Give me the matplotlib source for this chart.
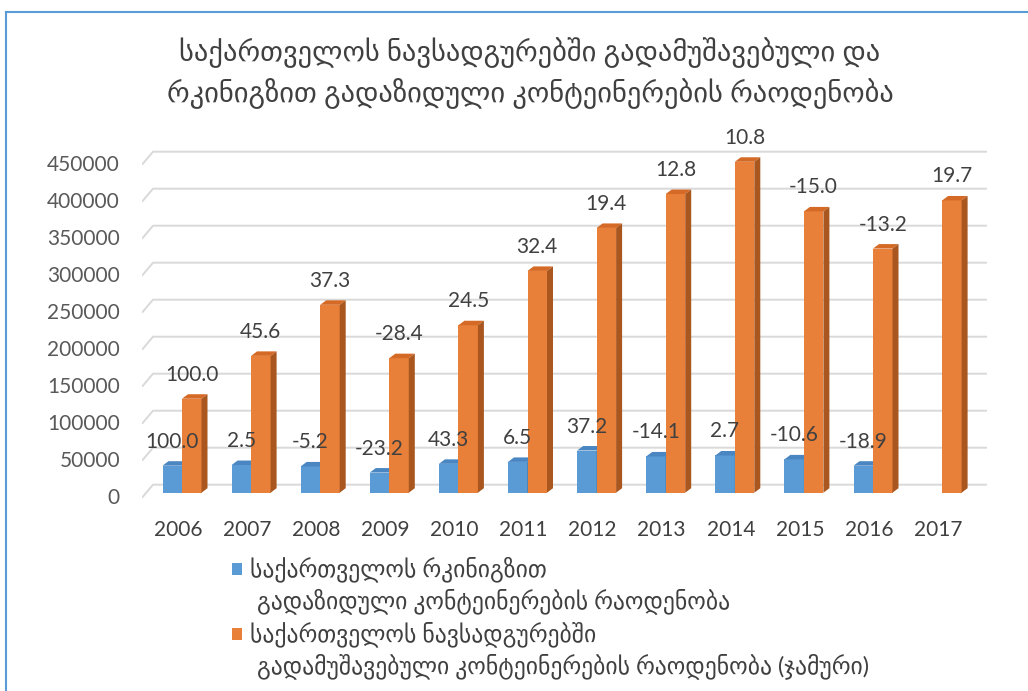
import matplotlib.pyplot as plt
import numpy as np
from matplotlib.patches import Polygon, Rectangle
from matplotlib.lines import Line2D
from matplotlib.transforms import offset_copy

plt.rcParams['font.family'] = ['Lato', 'DejaVu Sans']

years = ['2006', '2007', '2008', '2009', '2010', '2011',
         '2012', '2013', '2014', '2015', '2016', '2017']
rail = [36500, 37400, 35500, 27200, 39000, 41600,
        57000, 49000, 50300, 45000, 36500, np.nan]
ports = [127000, 184900, 253900, 181800, 226300, 299700,
         357800, 403600, 447200, 380100, 329900, 394900]
rail_growth = ['100.0', '2.5', '-5.2', '-23.2', '43.3', '6.5',
               '37.2', '-14.1', '2.7', '-10.6', '-18.9', '']
ports_growth = ['100.0', '45.6', '37.3', '-28.4', '24.5', '32.4',
                '19.4', '12.8', '10.8', '-15.0', '-13.2', '19.7']
yticks = [0, 50000, 100000, 150000, 200000, 250000,
          300000, 350000, 400000, 450000]

title = ('საქართველოს ნავსადგურებში გადამუშავებული და\n'
         'რკინიგზით გადაზიდული კონტეინერების რაოდენობა')
legend_rail = ('საქართველოს რკინიგზით', 'გადაზიდული კონტეინერების რაოდენობა')
legend_ports = ('საქართველოს ნავსადგურებში',
                'გადამუშავებული კონტეინერების რაოდენობა (ჯამური)')

W, H, DPI = 1028, 691, 100
fig = plt.figure(figsize=(W / DPI, H / DPI), dpi=DPI)

# pixel geometry of the plot area
ppv = 333 / 450000          # pixels per unit value
step = 69.1                 # pixels per category
x0, y0 = 182, 492.7         # pixel position of category 0 / value 0
left, right, top, bottom = 142, 995, 120, 515
ax = fig.add_axes([left / W, 1 - bottom / H, (right - left) / W, (bottom - top) / H])
ax.set_xlim((left - x0) / step, (right - x0) / step)
ax.set_ylim(-(bottom - y0) / ppv, (y0 - top) / ppv)
ax.axis('off')

def px_x(p):
    return p / step

def px_y(p):
    return p / ppv

num_size = 15
txt_col = '#404040'

# floor-style gridlines: slant from front edge to the back wall
grid_col = '#D9D9D9'
for v in yticks:
    xs = [px_x(142 - x0), px_x(153 - x0), px_x(987 - x0)]
    ys = [v - px_y(5), v + px_y(8), v + px_y(8)]
    ax.plot(xs, ys, color=grid_col, lw=1.4, solid_capstyle='butt', zorder=1)
    t = offset_copy(ax.transData, fig=fig, x=-22, y=-5, units='dots')
    ax.text(px_x(142 - x0), v, f'{v}', transform=t, ha='right', va='center',
            fontsize=num_size, color='#595959')

bw = 19.5 / step
dx, dy = px_x(6), px_y(4.5)

def bar3d(xc, h, front, top_col, side):
    if np.isnan(h):
        return
    xl, xr = xc - bw / 2, xc + bw / 2
    ax.add_patch(Rectangle((xl, 0), bw, h, facecolor=front, edgecolor='none', zorder=3))
    ax.add_patch(Polygon([(xl, h), (xr, h), (xr + dx, h + dy), (xl + dx, h + dy)],
                         closed=True, facecolor=top_col, edgecolor='none', zorder=3))
    ax.add_patch(Polygon([(xr, 0), (xr + dx, dy), (xr + dx, h + dy), (xr, h)],
                         closed=True, facecolor=side, edgecolor='none', zorder=3))

lbl_off = offset_copy(ax.transData, fig=fig, x=0, y=24, units='dots')
yr_t = offset_copy(ax.transData, fig=fig, x=-4, y=-37, units='dots')
for i in range(len(years)):
    xb = i - bw / 2
    xo = i + bw / 2
    bar3d(xb, rail[i], '#5B9BD5', '#4A86C2', '#41719C')
    bar3d(xo, ports[i], '#E8803A', '#D46A25', '#A9561F')
    if not np.isnan(rail[i]):
        ax.text(xb, rail[i], rail_growth[i], transform=lbl_off, ha='center',
                va='center', fontsize=num_size, color=txt_col, zorder=5)
    ax.text(xo, ports[i], ports_growth[i], transform=lbl_off, ha='center',
            va='center', fontsize=num_size, color=txt_col, zorder=5)
    ax.text(i, 0, years[i], transform=yr_t, ha='center', va='center',
            fontsize=num_size, color=txt_col)

# title
fig.text(530 / W, 1 - 73 / H, title, ha='center', va='center', fontsize=20.5,
         color=txt_col, linespacing=1.45)

# legend
def legend_entry(y_pix, color, lines):
    fig.add_artist(Rectangle((232 / W, 1 - (y_pix + 6) / H), 10 / W, 12 / H,
                             transform=fig.transFigure, facecolor=color,
                             edgecolor='none'))
    fig.text(250 / W, 1 - y_pix / H, lines[0], ha='left', va='center',
             fontsize=17, color=txt_col)
    fig.text(257 / W, 1 - (y_pix + 32) / H, lines[1], ha='left', va='center',
             fontsize=17, color=txt_col)

legend_entry(569, '#5B9BD5', legend_rail)
legend_entry(634, '#E8803A', legend_ports)

# frame around the chart
frame = '#5B9BD5'
fig.add_artist(Line2D([6 / W, 1], [1 - 12 / H, 1 - 12 / H], transform=fig.transFigure,
                      color=frame, lw=1.5))
fig.add_artist(Line2D([6 / W, 6 / W], [1 - 12 / H, 0], transform=fig.transFigure,
                      color=frame, lw=1.5))

fig.savefig('out.png', dpi=DPI)
